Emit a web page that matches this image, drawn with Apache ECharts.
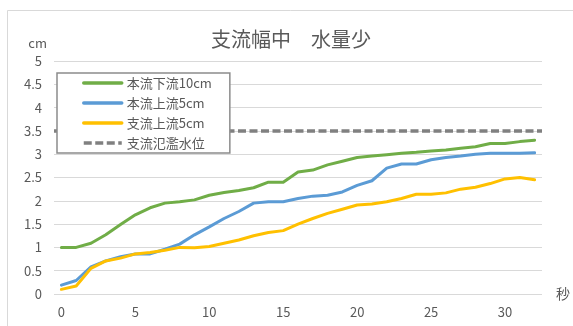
<!DOCTYPE html>
<html>
<head>
<meta charset="utf-8">
<script src="https://cdn.jsdelivr.net/npm/echarts@6/dist/echarts.min.js"></script>
<style>
  html, body { margin: 0; padding: 0; background: #ffffff; }
  #chart { width: 573px; height: 326px; }
</style>
</head>
<body>
<div id="chart"></div>
<script>
// Elapsed time in seconds
const seconds = Array.from({ length: 33 }, (_, i) => String(i));

// Water level readings (cm)
const mainDownstream10 = [1.00, 1.00, 1.09, 1.27, 1.49, 1.70, 1.85, 1.95, 1.98, 2.02,
  2.12, 2.18, 2.22, 2.28, 2.40, 2.40, 2.62, 2.66, 2.77, 2.85,
  2.93, 2.96, 2.99, 3.02, 3.04, 3.07, 3.09, 3.13, 3.16, 3.23,
  3.23, 3.27, 3.30];
const mainUpstream5 = [0.19, 0.29, 0.58, 0.71, 0.80, 0.86, 0.86, 0.96, 1.07, 1.27,
  1.44, 1.62, 1.77, 1.95, 1.98, 1.98, 2.05, 2.10, 2.12, 2.19,
  2.33, 2.43, 2.70, 2.79, 2.79, 2.88, 2.93, 2.96, 3.00, 3.02,
  3.02, 3.02, 3.03];
const branchUpstream5 = [0.10, 0.17, 0.55, 0.71, 0.77, 0.86, 0.89, 0.94, 1.00, 0.99,
  1.02, 1.09, 1.16, 1.25, 1.32, 1.36, 1.50, 1.62, 1.73, 1.82,
  1.91, 1.93, 1.98, 2.05, 2.14, 2.14, 2.17, 2.25, 2.29, 2.37,
  2.47, 2.50, 2.45];
const floodLevel = 3.5;

const seriesNames = ['本流下流10cm', '本流上流5cm', '支流上流5cm', '支流氾濫水位'];
const yTicks = { min: 0, max: 5, interval: 0.5 };

const textColor = '#595959';
const fontFamily = '"Noto Sans CJK JP", "Noto Sans", sans-serif';

const chart = echarts.init(document.getElementById('chart'), null, { renderer: 'canvas' });

function dataLine(name, data, color) {
  return {
    name: name,
    type: 'line',
    data: data,
    symbol: 'none',
    smooth: false,
    lineStyle: { color: color, width: 3, cap: 'round', join: 'round' },
    itemStyle: { color: color },
    emphasis: { disabled: true },
    z: 3
  };
}

chart.setOption({
  animation: false,
  backgroundColor: '#ffffff',
  textStyle: { fontFamily: fontFamily },
  graphic: [{
    type: 'rect',
    shape: { x: 7.5, y: 10.5, width: 620, height: 400 },
    style: { fill: 'none', stroke: '#d9d9d9', lineWidth: 1 },
    silent: true,
    z: -10
  }],
  title: {
    text: '支流幅中　水量少',
    left: 211,
    top: 29,
    padding: 0,
    textStyle: { color: textColor, fontSize: 20, fontWeight: 'normal', fontFamily: fontFamily }
  },
  legend: {
    orient: 'vertical',
    left: 57,
    top: 73,
    padding: [3, 18, 3, 25],
    itemWidth: 38,
    itemHeight: 14,
    itemGap: 6,
    backgroundColor: '#ffffff',
    borderColor: '#8c8c8c',
    borderWidth: 1.5,
    data: seriesNames,
    // legend keys show the line stroke only
    itemStyle: { opacity: 0 },
    lineStyle: { width: 3.5 },
    textStyle: { color: textColor, fontSize: 13, lineHeight: 14, fontFamily: fontFamily },
    z: 10
  },
  grid: { left: 54, right: 31, top: 61, bottom: 32 },
  xAxis: {
    type: 'category',
    data: seconds,
    boundaryGap: true,
    name: '秒',
    nameLocation: 'end',
    nameGap: 14,
    nameTextStyle: { color: textColor, fontSize: 14, padding: [44, 0, 0, 0] },
    axisLine: { show: false },
    axisTick: { show: false },
    axisLabel: { interval: 4, color: textColor, fontSize: 13, margin: 12 },
    splitLine: { show: false }
  },
  yAxis: {
    type: 'value',
    min: yTicks.min,
    max: yTicks.max,
    interval: yTicks.interval,
    name: 'cm',
    nameLocation: 'end',
    nameGap: 11,
    nameTextStyle: { color: textColor, fontSize: 13, align: 'right', padding: [0, 7, 0, 0] },
    axisLine: { show: false },
    axisTick: { show: false },
    axisLabel: { color: textColor, fontSize: 13, margin: 12 },
    splitLine: { lineStyle: { color: '#d9d9d9', width: 1 } }
  },
  series: [
    dataLine(seriesNames[0], mainDownstream10, '#70ad47'),
    dataLine(seriesNames[1], mainUpstream5, '#5b9bd5'),
    dataLine(seriesNames[2], branchUpstream5, '#ffc000'),
    {
      name: seriesNames[3],
      type: 'line',
      data: [],
      symbol: 'none',
      lineStyle: { color: '#808080', width: 3.5, type: [8, 3.5] },
      itemStyle: { color: '#808080' },
      markLine: {
        silent: true,
        symbol: 'none',
        label: { show: false },
        lineStyle: { color: '#808080', width: 3.5, type: [8, 3.5] },
        emphasis: { disabled: true },
        data: [{ yAxis: floodLevel }]
      },
      z: 2
    }
  ]
});
</script>
</body>
</html>
